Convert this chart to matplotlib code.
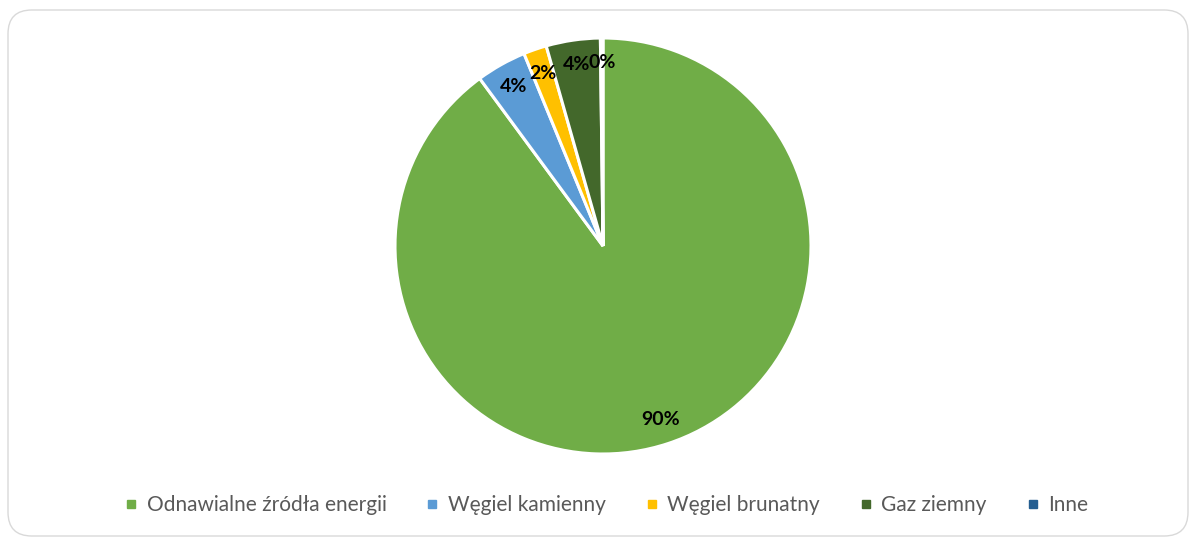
import matplotlib
matplotlib.use('Agg')
import matplotlib.pyplot as plt
from matplotlib.patches import FancyBboxPatch
from matplotlib.lines import Line2D

# Dane
kategorie = ['Odnawialne źródła energii', 'Węgiel kamienny', 'Węgiel brunatny',
             'Gaz ziemny', 'Inne']
udzialy = [89.9, 3.9, 1.8, 4.2, 0.2]
kolory = ['#70AD47', '#5B9BD5', '#FFC000', '#43682B', '#255E91']

plt.rcParams['font.family'] = ['Lato', 'DejaVu Sans']

W, H = 1191, 538
fig = plt.figure(figsize=(W / 100, H / 100), dpi=100)

# ramka wykresu
ramka = FancyBboxPatch((8 / W, 2 / H), 1180 / W, 526 / H,
                       boxstyle='round,pad=0,rounding_size=0.02',
                       transform=fig.transFigure, facecolor='none',
                       edgecolor='#D9D9D9', linewidth=1.0, mutation_aspect=W / H,
                       zorder=-1)
fig.patches.append(ramka)

ax = fig.add_axes([395 / W, 84 / H, 416 / W, 416 / H])
wedges, texts, autotexts = ax.pie(
    udzialy, colors=kolory, startangle=90, counterclock=False,
    autopct='%.0f%%', pctdistance=0.88,
    wedgeprops=dict(edgecolor='white', linewidth=2.2),
    textprops=dict(fontsize=14, fontweight='bold', color='black'))
ax.set_aspect('equal')
ax.set_xlim(-1, 1)
ax.set_ylim(-1, 1)

uchwyty = [Line2D([], [], marker='s', linestyle='', markersize=6,
                  markerfacecolor=c, markeredgecolor=c) for c in kolory]
fig.legend(uchwyty, kategorie, loc='center', bbox_to_anchor=(0.508, (H - 505) / H),
           ncol=5, frameon=False, fontsize=15, labelcolor='#595959',
           handletextpad=0.3, columnspacing=1.75, handlelength=0.9)

fig.savefig('out.png', dpi=100)
